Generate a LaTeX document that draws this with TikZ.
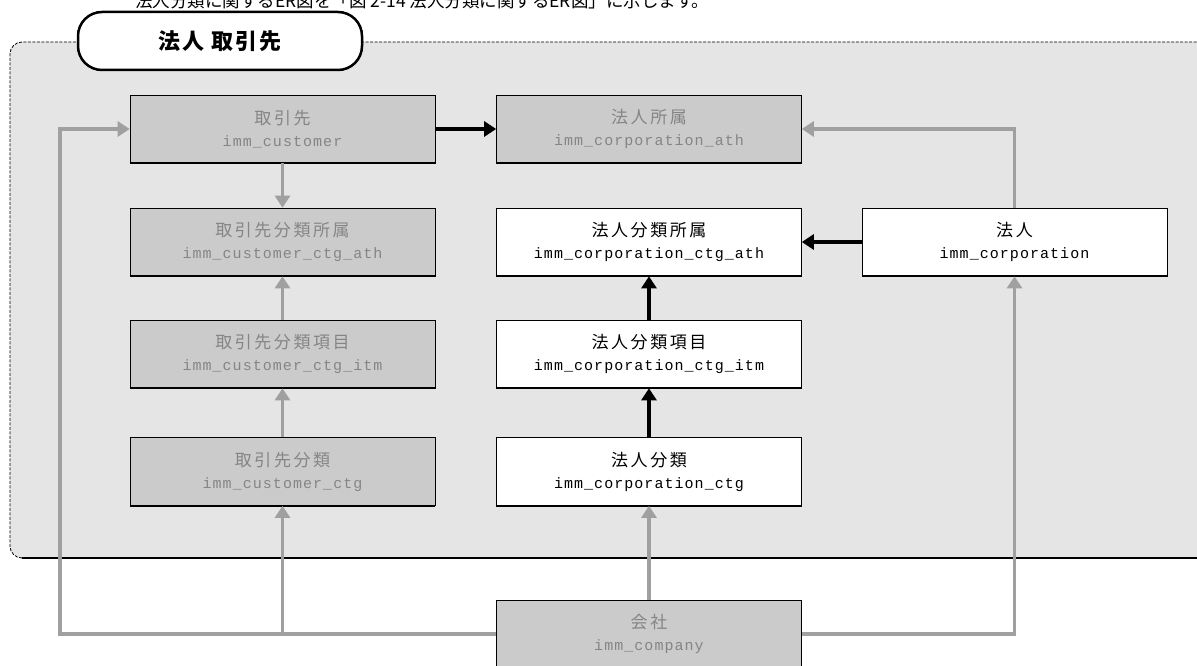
\documentclass[tikz,border=0pt]{standalone}
\usepackage{fontspec}
\setmainfont{Noto Sans CJK JP}
\newfontfamily\jpwide[LetterSpace=15]{Noto Sans CJK JP}
\newfontfamily\jptitle[LetterSpace=10]{Noto Sans CJK JP}
\newfontfamily\monofam[LetterSpace=7]{Liberation Mono}
\usetikzlibrary{arrows.meta,calc}
\definecolor{contfill}{HTML}{E5E5E5}
\definecolor{nodegray}{HTML}{CBCBCB}
\definecolor{textgray}{HTML}{858585}
\definecolor{arrgray}{HTML}{A0A0A0}
\tikzset{
  ent/.style={minimum width=305pt, minimum height=68pt, draw=black, line width=0.7pt,
    inner sep=0pt, align=center, font=\jpwide\fontsize{17}{22}\selectfont},
  gent/.style={ent, fill=nodegray, text=textgray},
  went/.style={ent, fill=white, text=black},
  garr/.style={draw=arrgray, line width=3.5pt, -{Triangle[length=12pt,width=15pt]}},
  barr/.style={draw=black, line width=3.5pt, -{Triangle[length=12pt,width=15pt]}},
}
\newcommand{\mn}[1]{{\monofam\fontsize{15}{22}\selectfont #1}}
\begin{document}
\begin{tikzpicture}[x=1pt,y=-1pt]
\useasboundingbox (0,0) rectangle (1197,666);
% caption (cut off at top)
\node[anchor=west, font=\fontsize{17.5}{22}\selectfont, inner sep=0pt] (cap) at (135,1)
  {法人分類に関するER図を「図 2-14 法人分類に関するER図」に示します。};
% container
\path[fill=contfill, rounded corners=12pt] (1210,42) -- (10,42) -- (10,558) -- (1210,558) -- cycle;
\draw[dash pattern=on 3pt off 1.5pt, line width=0.8pt, rounded corners=12pt]
  (1210,42) -- (10,42) -- (10,558) -- (40,558);
\draw[line width=2.5pt] (22,558) -- (1210,558);
% tab
\node[draw=black, line width=2.5pt, rounded corners=24pt, fill=white,
  minimum width=284pt, minimum height=58pt, font=\jptitle\bfseries\fontsize{22}{26}\selectfont] (tab)
  at (220,41) {法人 取引先};
% entities
\node[gent] (cust) at (282.5,129) {取引先\\\mn{imm\_customer}};
\node[gent] (corpath) at (649,129) {法人所属\\\mn{imm\_corporation\_ath}};
\node[gent] (custctgath) at (282.5,242) {取引先分類所属\\\mn{imm\_customer\_ctg\_ath}};
\node[went] (corpctgath) at (649,242) {法人分類所属\\\mn{imm\_corporation\_ctg\_ath}};
\node[went] (corp) at (1014.5,242) {法人\\\mn{imm\_corporation}};
\node[gent] (custctgitm) at (282.5,354) {取引先分類項目\\\mn{imm\_customer\_ctg\_itm}};
\node[went] (corpctgitm) at (649,354) {法人分類項目\\\mn{imm\_corporation\_ctg\_itm}};
\node[gent] (custctg) at (282.5,471.5) {取引先分類\\\mn{imm\_customer\_ctg}};
\node[went] (corpctg) at (649,471.5) {法人分類\\\mn{imm\_corporation\_ctg}};
\node[gent] (company) at (649,634) {会社\\\mn{imm\_company}};
\foreach \n in {cust,corpath,custctgath,corpctgath,corp,custctgitm,corpctgitm,custctg,corpctg,company}
  \draw[line width=2pt] (\n.south west) -- (\n.south east);
% connectors
\coordinate (lx) at (60,400);
\draw[garr] (company.west) -| (lx) |- (cust.west);
\draw[garr] (company.west) -| (custctg.south);
\draw[garr] (company.north) -- (corpctg.south);
\draw[garr] (company.east) -| (corp.south);
\draw[garr] (corp.north) |- (corpath.east);
\draw[garr] (cust.south) -- (custctgath.north);
\draw[garr] (custctgitm.north) -- (custctgath.south);
\draw[garr] (custctg.north) -- (custctgitm.south);
\draw[barr] (cust.east) -- (corpath.west);
\draw[barr] (corp.west) -- (corpctgath.east);
\draw[barr] (corpctgitm.north) -- (corpctgath.south);
\draw[barr] (corpctg.north) -- (corpctgitm.south);
\end{tikzpicture}
\end{document}
